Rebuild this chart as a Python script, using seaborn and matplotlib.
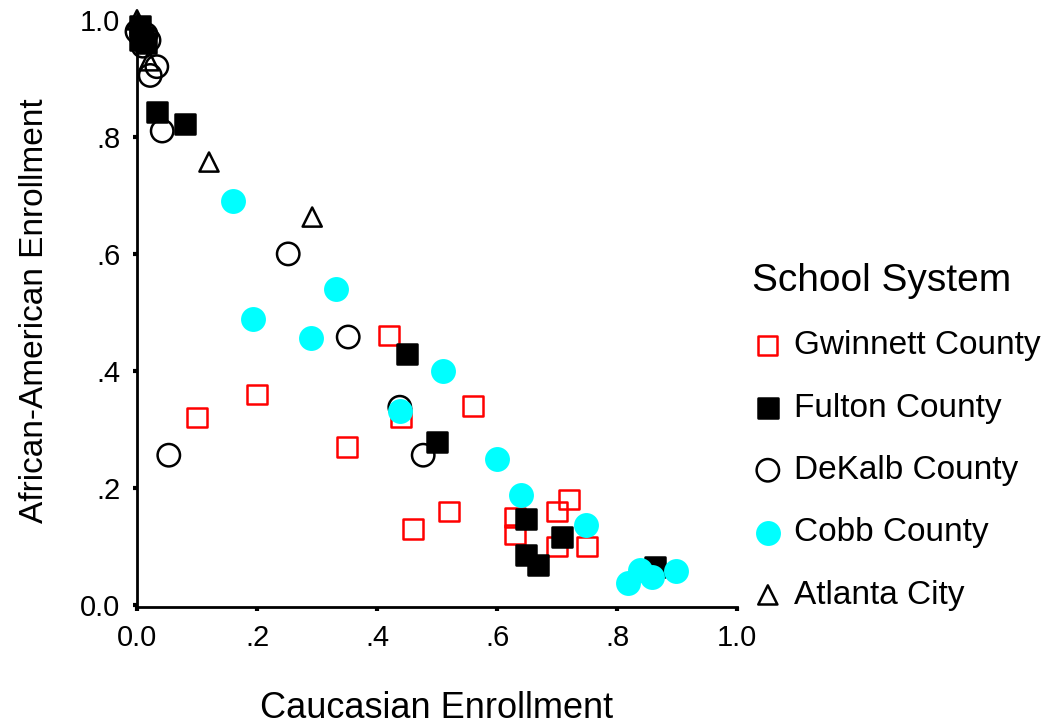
import numpy as np
import pandas as pd
import seaborn as sns
import matplotlib
matplotlib.use("Agg")
import matplotlib.pyplot as plt

# enrollment shares, one pair of lists per school system
gwinnett_x = [0.10, 0.20, 0.35, 0.42, 0.44, 0.46, 0.52, 0.56, 0.63, 0.63, 0.70, 0.72, 0.70, 0.75]
gwinnett_y = [0.32, 0.36, 0.27, 0.46, 0.32, 0.13, 0.16, 0.34, 0.15, 0.12, 0.16, 0.18, 0.10, 0.10]

fulton_x = [0.005, 0.010, 0.015, 0.005, 0.033, 0.080, 0.450, 0.500, 0.648, 0.648, 0.668, 0.708, 0.863]
fulton_y = [0.990, 0.970, 0.960, 0.965, 0.843, 0.822, 0.429, 0.279, 0.147, 0.085, 0.068, 0.116, 0.065]

dekalb_x = [0.000, 0.015, 0.020, 0.010, 0.033, 0.022, 0.042, 0.252, 0.352, 0.438, 0.477, 0.053]
dekalb_y = [0.980, 0.975, 0.965, 0.955, 0.920, 0.905, 0.810, 0.600, 0.458, 0.338, 0.256, 0.256]

cobb_x = [0.160, 0.193, 0.290, 0.332, 0.438, 0.510, 0.600, 0.640, 0.748, 0.818, 0.838, 0.858, 0.898]
cobb_y = [0.690, 0.489, 0.456, 0.540, 0.332, 0.400, 0.250, 0.188, 0.137, 0.038, 0.060, 0.048, 0.058]

atlanta_x = [0.000, 0.005, 0.010, 0.020, 0.120, 0.292]
atlanta_y = [1.000, 0.980, 0.970, 0.930, 0.757, 0.663]

systems = ["Gwinnett County", "Fulton County", "DeKalb County", "Cobb County", "Atlanta City"]

frames = []
for name, xs, ys in zip(systems,
                        [gwinnett_x, fulton_x, dekalb_x, cobb_x, atlanta_x],
                        [gwinnett_y, fulton_y, dekalb_y, cobb_y, atlanta_y]):
    frames.append(pd.DataFrame({"white": xs, "black": ys, "system": name}))
df = pd.concat(frames, ignore_index=True)

sns.set_style("white")
plt.rcParams["font.family"] = ["Liberation Sans", "DejaVu Sans"]
for key in ["text.color", "axes.labelcolor", "xtick.color", "ytick.color"]:
    plt.rcParams[key] = "black"

# marker style for each system: (marker, face, edge, size)
styles = {
    "Gwinnett County": ("s", "none", "#ff0000", 190),
    "Fulton County": ("s", "black", "black", 190),
    "DeKalb County": ("o", "none", "black", 260),
    "Cobb County": ("o", "#00ffff", "#00ffff", 260),
    "Atlanta City": ("^", "none", "black", 190),
}

fig = plt.figure(figsize=(10.55, 7.27), dpi=100)
ax = fig.add_axes([137 / 1055, 120 / 727, 600 / 1055, 593 / 727])

for name in systems:
    m, fc, ec, s = styles[name]
    sns.scatterplot(data=df[df["system"] == name], x="white", y="black", ax=ax,
                    marker=m, s=s, facecolor=fc, edgecolor=ec, linewidth=1.8,
                    label=name, clip_on=False, zorder=3)

ax.set_xlim(0, 1.0)
ax.set_ylim(-0.0034, 1.01)
ticks = [0.0, 0.2, 0.4, 0.6, 0.8, 1.0]
tick_labels = ["0.0", ".2", ".4", ".6", ".8", "1.0"]
ax.set_xticks(ticks)
ax.set_xticklabels(tick_labels)
ax.set_yticks(ticks)
ax.set_yticklabels(tick_labels)
ax.tick_params(axis="both", direction="out", length=3, width=3, color="black",
               labelsize=21, pad=9, bottom=True, left=True)

for side in ["top", "right"]:
    ax.spines[side].set_visible(False)
for side in ["left", "bottom"]:
    ax.spines[side].set_color("black")
    ax.spines[side].set_linewidth(2)

ax.set_xlabel("Caucasian Enrollment", fontsize=26, labelpad=28)
ax.set_ylabel("African-American Enrollment", fontsize=24, labelpad=22)

leg = ax.legend(title="School System", loc="upper left",
                bbox_to_anchor=(752 / 1055, 1 - 263 / 727),
                bbox_transform=fig.transFigure, frameon=False,
                borderpad=0, borderaxespad=0,
                fontsize=24, title_fontsize=28, labelspacing=0.94,
                handlelength=0.95, handletextpad=0.3, markerscale=1.0,
                alignment="left")

fig.savefig("out.png", dpi=100)
